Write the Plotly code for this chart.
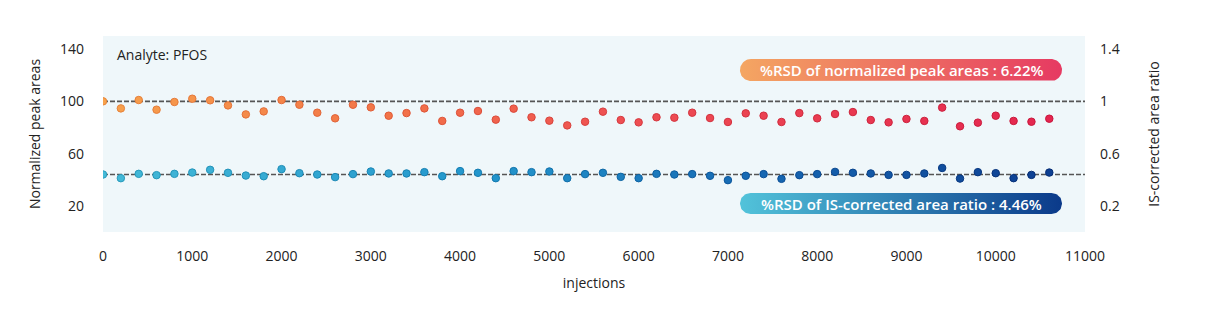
import plotly.graph_objects as go
import numpy as np

# ---- data ----
injections = list(range(0, 10601, 200))
normalized_peak_areas = [
    100, 94.6, 101, 93.6, 99.5, 102, 100.8, 96.9, 90, 92.3,
    101, 97.4, 91.3, 87, 97.4, 95.4, 89, 91, 94.6, 85,
    91.3, 92.6, 86, 94.4, 87.8, 85.2, 81.6, 84.4, 92.1, 85.7,
    83.9, 87.8, 87.5, 91.3, 87.2, 84.2, 90.8, 89, 84.2, 91,
    87, 90.3, 91.8, 85.7, 83.9, 86.5, 85, 95.2, 80.9, 83.7,
    89, 85, 84.4, 86.7,
]
is_corrected_ratio = [
    0.440, 0.412, 0.445, 0.435, 0.445, 0.455, 0.476, 0.453, 0.432, 0.427,
    0.481, 0.450, 0.440, 0.420, 0.443, 0.463, 0.448, 0.448, 0.458, 0.427,
    0.466, 0.453, 0.412, 0.466, 0.458, 0.463, 0.412, 0.443, 0.453, 0.422,
    0.412, 0.445, 0.440, 0.443, 0.430, 0.397, 0.430, 0.443, 0.407, 0.435,
    0.443, 0.460, 0.453, 0.448, 0.437, 0.437, 0.448, 0.490, 0.409, 0.458,
    0.450, 0.412, 0.437, 0.455,
]
ref_norm = 100
ref_ratio = 0.44
x_ticks = list(range(0, 11001, 1000))
x_tick_text = [str(v) for v in x_ticks]
left_ticks = [20, 60, 100, 140]
right_ticks = [0.2, 0.6, 1.0, 1.4]
right_tick_text = ["0.2", "0.6", "1", "1.4"]
rsd_norm_label = "%RSD of normalized peak areas : 6.22%"
rsd_ratio_label = "%RSD of IS-corrected area ratio : 4.46%"

# ---- layout constants ----
W, H = 1215, 323
ML, MR, MT, MB = 103, 130, 36, 91
PW, PH = W - ML - MR, H - MT - MB
XR = [0, 11000]
YR = [0, 150]
sx = PW / (XR[1] - XR[0])
sy = PH / (YR[1] - YR[0])

FONT = "Open Sans"
red_scale = [[0, "#f7a24c"], [0.3, "#f27448"], [0.55, "#ee4f52"], [1, "#e4254f"]]
red_line = [[0, "#e8863a"], [0.3, "#e05a36"], [0.55, "#d63a40"], [1, "#c8163c"]]
blue_scale = [[0, "#44bad8"], [0.4, "#2396cc"], [0.7, "#1667b2"], [1, "#0d3f92"]]
blue_line = [[0, "#2a9dbd"], [0.4, "#137bb0"], [0.7, "#0b5098"], [1, "#062d75"]]

fig = go.Figure()

# reference dashed lines
fig.add_shape(type="line", xref="paper", x0=0, x1=1, yref="y", y0=ref_norm, y1=ref_norm,
              line=dict(color="#555555", width=1.6, dash="5px,2px"), layer="below")
fig.add_shape(type="line", xref="paper", x0=0, x1=1, yref="y2", y0=ref_ratio, y1=ref_ratio,
              line=dict(color="#555555", width=1.6, dash="5px,2px"), layer="below")

fig.add_trace(go.Scatter(
    x=injections, y=normalized_peak_areas, mode="markers", yaxis="y",
    marker=dict(size=7.5, color=injections, colorscale=red_scale, cmin=0, cmax=10600,
                line=dict(width=1, color=injections, colorscale=red_line, cmin=0, cmax=10600)),
    showlegend=False, hoverinfo="x+y"))
fig.add_trace(go.Scatter(
    x=injections, y=is_corrected_ratio, mode="markers", yaxis="y2",
    marker=dict(size=7.5, color=injections, colorscale=blue_scale, cmin=0, cmax=10600,
                line=dict(width=1, color=injections, colorscale=blue_line, cmin=0, cmax=10600)),
    showlegend=False, hoverinfo="x+y"))


def pill(px0, px1, py0, py1, c0, c1, text):
    # pixel-space pill converted to data coords of x / y axes
    r = (py1 - py0) / 2
    cy = (py0 + py1) / 2
    pts = []
    for a in np.linspace(np.pi / 2, 3 * np.pi / 2, 30):
        pts.append((px0 + r + r * np.cos(a), cy - r * np.sin(a)))
    for a in np.linspace(-np.pi / 2, np.pi / 2, 30):
        pts.append((px1 - r + r * np.cos(a), cy - r * np.sin(a)))
    pts.append(pts[0])
    xs = [(p[0] - ML) / sx + XR[0] for p in pts]
    ys = [YR[1] - (p[1] - MT) / sy for p in pts]
    fig.add_trace(go.Scatter(
        x=xs, y=ys, mode="lines", fill="toself", line=dict(width=0),
        fillgradient=dict(type="horizontal", colorscale=[[0, c0], [1, c1]]),
        hoverinfo="skip", showlegend=False, yaxis="y"))
    fig.add_annotation(
        x=((px0 + px1) / 2 - ML) / sx, y=YR[1] - (cy - MT) / sy, xref="x", yref="y",
        text=text, showarrow=False, font=dict(family=FONT, size=15, color="white", weight=600),
        xanchor="center", yanchor="middle")


pill(740, 1062, 59, 81, "#f4a662", "#e63a62", rsd_norm_label)
pill(740, 1062, 193, 214, "#52c3da", "#0b3a8a", rsd_ratio_label)

fig.add_annotation(xref="paper", yref="paper", x=(115 - ML) / PW, y=1 - (54 - MT) / PH,
                   text="Analyte: PFOS", showarrow=False, xanchor="left", yanchor="middle",
                   font=dict(family=FONT, size=14, color="#222222"))

fig.update_layout(
    width=W, height=H,
    margin=dict(l=ML, r=MR, t=MT, b=MB, pad=0),
    paper_bgcolor="white", plot_bgcolor="#eff7fa",
    font=dict(family=FONT, size=14, color="#222222"),
    xaxis=dict(range=XR, tickvals=x_ticks, ticktext=x_tick_text, showgrid=False, zeroline=False,
               showline=False, ticks="", ticklabelstandoff=14,
               title=dict(text="injections", standoff=14, font=dict(size=14))),
    yaxis=dict(range=YR, tickvals=left_ticks, showgrid=False, zeroline=False, showline=False,
               ticks="", ticklabelstandoff=18,
               title=dict(text="Normalized peak areas", standoff=16, font=dict(size=14))),
    yaxis2=dict(range=[YR[0] / 100, YR[1] / 100], tickvals=right_ticks, ticktext=right_tick_text,
                overlaying="y", side="right", showgrid=False, zeroline=False, showline=False,
                ticks="", ticklabelstandoff=14,
                title=dict(text="IS-corrected area ratio", standoff=30, font=dict(size=14))),
)

fig.write_html("out.html")
